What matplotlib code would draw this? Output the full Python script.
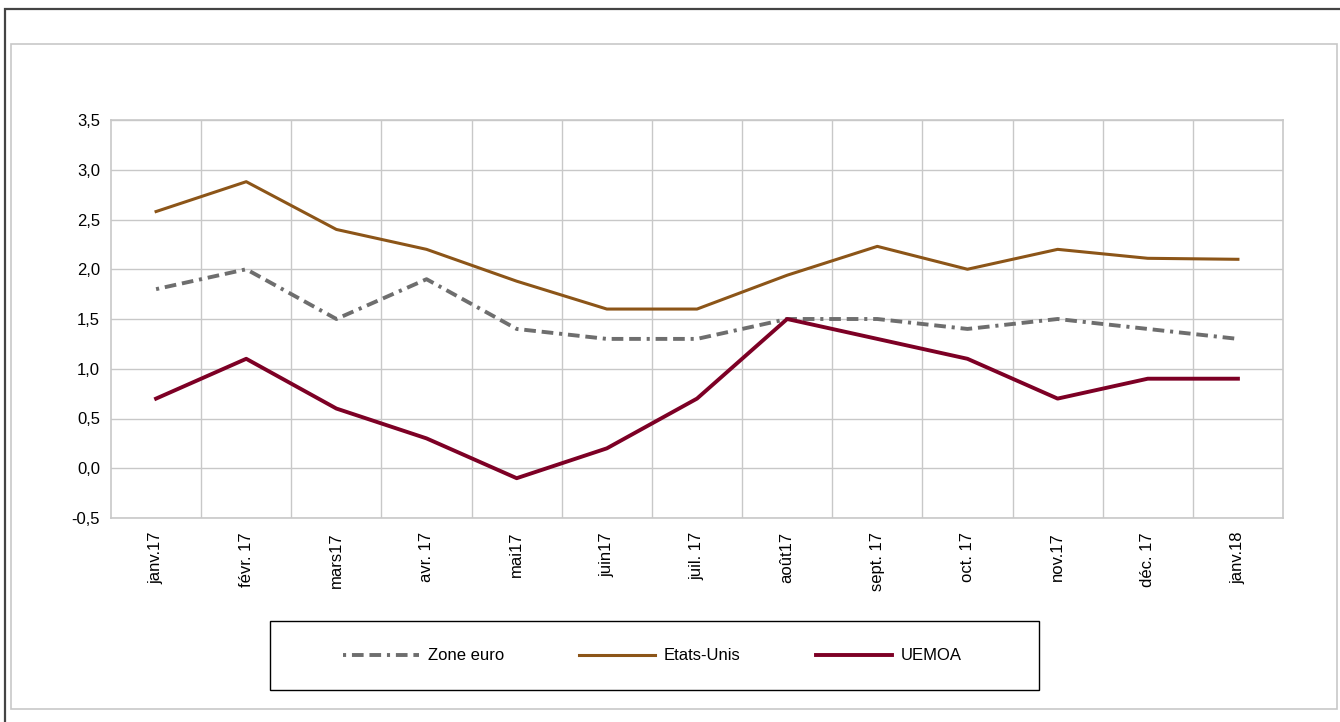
import matplotlib.pyplot as plt
import numpy as np
from matplotlib.patches import Rectangle
from matplotlib.lines import Line2D

plt.rcParams['font.family'] = ['Liberation Sans', 'DejaVu Sans']

# data
months = ['janv.17', 'févr. 17', 'mars17', 'avr. 17', 'mai17', 'juin17', 'juil. 17',
          'août17', 'sept. 17', 'oct. 17', 'nov.17', 'déc. 17', 'janv.18']
zone_euro = [1.8, 2.0, 1.5, 1.9, 1.4, 1.3, 1.3, 1.5, 1.5, 1.4, 1.5, 1.4, 1.3]
etats_unis = [2.58, 2.88, 2.40, 2.20, 1.88, 1.60, 1.60, 1.94, 2.23, 2.00, 2.20, 2.11, 2.10]
uemoa = [0.7, 1.1, 0.6, 0.3, -0.1, 0.2, 0.7, 1.5, 1.3, 1.1, 0.7, 0.9, 0.9]
yticks = [-0.5, 0.0, 0.5, 1.0, 1.5, 2.0, 2.5, 3.0, 3.5]

c_euro = '#6e6e6e'
c_us = '#8c5518'
c_uemoa = '#7d0025'
grid_c = '#c8c8c8'
dash_euro = (0, (0.8, 1.5, 3.0, 1.5, 3.0, 1.5))

fig = plt.figure(figsize=(13.4, 7.22), dpi=100)

# outer frames
fig.patches.append(Rectangle((5 / 1340, -0.1), 2.0, 1 - 9 / 722 + 0.1, transform=fig.transFigure,
                             fill=False, edgecolor='#444444', lw=1.6))
fig.patches.append(Rectangle((11 / 1340, 1 - 709 / 722), 1326 / 1340, 665 / 722,
                             transform=fig.transFigure, fill=False, edgecolor='#c8c8c8', lw=1.2))

ax = fig.add_axes([111 / 1340, 1 - 518 / 722, 1172 / 1340, 398 / 722])
x = np.arange(len(months))

ax.plot(x, zone_euro, color=c_euro, lw=2.8, linestyle=dash_euro, zorder=3)
ax.plot(x, etats_unis, color=c_us, lw=2.2, zorder=3)
ax.plot(x, uemoa, color=c_uemoa, lw=2.8, zorder=4)

ax.set_xlim(-0.5, len(months) - 0.5)
ax.set_ylim(-0.5, 3.5)
ax.set_yticks(yticks)
ax.set_yticklabels([f'{v:.1f}'.replace('.', ',') for v in yticks], fontsize=12)
ax.set_xticks(x)
ax.set_xticklabels(months, rotation=90, fontsize=12)
ax.set_xticks(np.arange(0.5, len(months) - 0.5), minor=True)
ax.tick_params(axis='both', which='both', length=0)
ax.tick_params(axis='y', pad=8)
ax.tick_params(axis='x', pad=10)
ax.grid(True, axis='y', color=grid_c, lw=1.0)
ax.grid(True, axis='x', which='minor', color=grid_c, lw=1.0)
ax.set_axisbelow(True)
for s in ax.spines.values():
    s.set_color(grid_c)
    s.set_linewidth(1.2)

# legend box
fig.patches.append(Rectangle((270 / 1340, 1 - 690 / 722), 769 / 1340, 69 / 722,
                             transform=fig.transFigure, fill=False, edgecolor='black', lw=1.0))
handles = [Line2D([], [], color=c_euro, lw=2.8, linestyle=dash_euro),
           Line2D([], [], color=c_us, lw=2.2),
           Line2D([], [], color=c_uemoa, lw=2.8)]
fig.legend(handles, ['Zone euro', 'Etats-Unis', 'UEMOA'], loc='center',
           bbox_to_anchor=(652 / 1340, 1 - 656 / 722), ncol=3, frameon=False,
           fontsize=12, handlelength=4.6, handletextpad=0.5, columnspacing=4.5)

fig.savefig('out.png', dpi=100)
